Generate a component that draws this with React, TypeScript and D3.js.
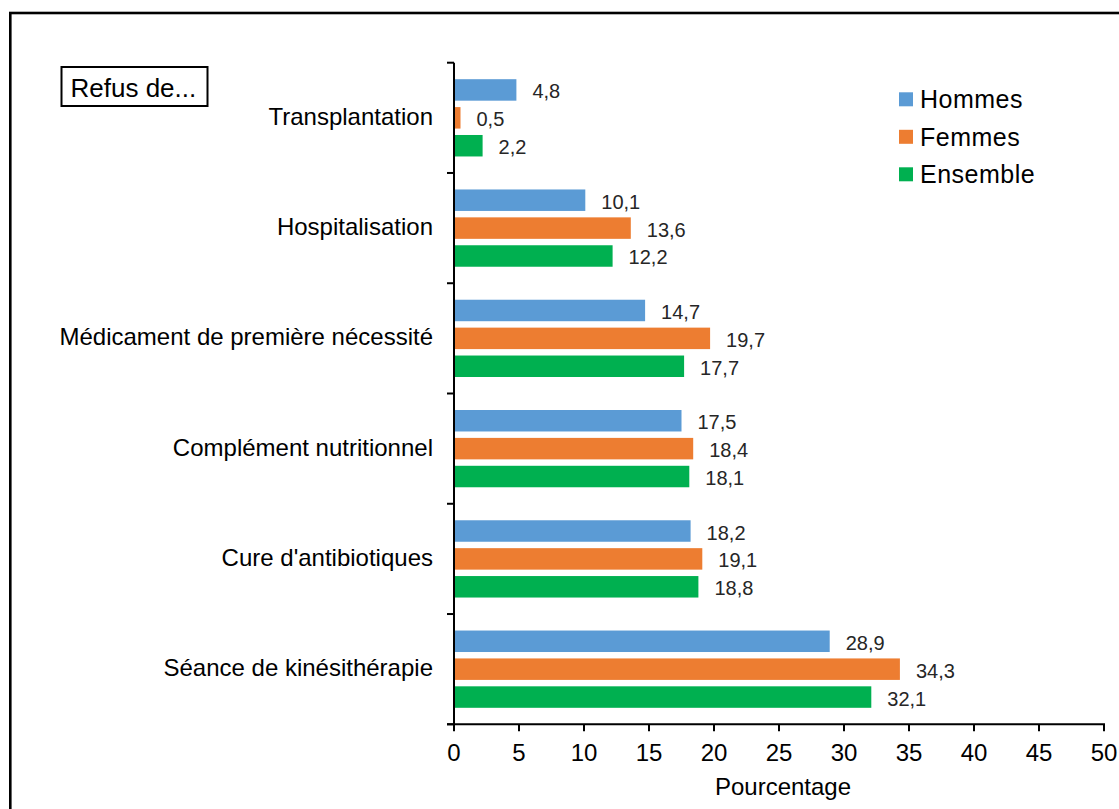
import React from "react";
import * as d3 from "d3";

const categories = [
  "Transplantation",
  "Hospitalisation",
  "Médicament de première nécessité",
  "Complément nutritionnel",
  "Cure d'antibiotiques",
  "Séance de kinésithérapie",
];
const seriesNames = ["Hommes", "Femmes", "Ensemble"];
const hommes = [4.8, 10.1, 14.7, 17.5, 18.2, 28.9];
const femmes = [0.5, 13.6, 19.7, 18.4, 19.1, 34.3];
const ensemble = [2.2, 12.2, 17.7, 18.1, 18.8, 32.1];
const seriesColors = ["#5B9BD5", "#ED7D31", "#00B050"];
const xTicks = [0, 5, 10, 15, 20, 25, 30, 35, 40, 45, 50];

const W = 1119;
const H = 809;
const FONT = "'Liberation Sans', Arial, sans-serif";

export default function App() {
  const values = [hommes, femmes, ensemble];
  const x = d3.scaleLinear().domain([0, 50]).range([454, 1104]);
  const y = d3.scaleBand<string>().domain(categories).range([62.7, 724.3]).paddingInner(0).paddingOuter(0);
  const bw = y.bandwidth();
  const inner = d3
    .scaleBand<string>()
    .domain(seriesNames)
    .range([16.5, bw - 16.5])
    .paddingInner(0.23)
    .paddingOuter(0);
  const fmt = (v: number) => v.toFixed(1).replace(".", ",");
  const axisY = 724.3;
  const boundaries = categories.map((c) => y(c) as number).concat([724.3]);

  return (
    <div style={{ position: "absolute", left: 0, top: 0, width: W, height: H, overflow: "hidden" }}>
      <svg width={W} height={H} style={{ display: "block", fontFamily: FONT }}>
        <rect x={0} y={0} width={W} height={H} fill="#fff" />
        <rect x={10.3} y={13} width={1300} height={1000} fill="none" stroke="#000" strokeWidth={2.6} />

        {/* Refus de box */}
        <rect x={61.5} y={67} width={146} height={39} fill="#fff" stroke="#000" strokeWidth={2} />
        <text x={70.5} y={96.5} fontSize={26} fill="#000">Refus de...</text>

        {/* bars */}
        {categories.map((c, i) =>
          seriesNames.map((s, j) => {
            const v = values[j][i];
            const by = (y(c) as number) + (inner(s) as number);
            const bh = inner.bandwidth();
            return (
              <g key={c + s}>
                <rect x={x(0)} y={by} width={x(v) - x(0)} height={bh} fill={seriesColors[j]} />
                <text x={x(v) + 16} y={by + bh / 2 + 8.5} fontSize={20} fill="#262626">
                  {fmt(v)}
                </text>
              </g>
            );
          })
        )}

        {/* y axis */}
        <line x1={454} x2={454} y1={62.7} y2={axisY} stroke="#000" strokeWidth={2} />
        {boundaries.map((b, i) => (
          <line key={"yt" + i} x1={447} x2={454} y1={b} y2={b} stroke="#000" strokeWidth={2} />
        ))}
        {categories.map((c) => (
          <text
            key={"cl" + c}
            x={433}
            y={(y(c) as number) + bw / 2 + 7}
            fontSize={24}
            textAnchor="end"
            fill="#000"
          >
            {c}
          </text>
        ))}

        {/* x axis */}
        <line x1={447} x2={x(50) + 1} y1={axisY} y2={axisY} stroke="#000" strokeWidth={2} />
        {xTicks.map((t) => (
          <g key={"xt" + t}>
            <line x1={x(t)} x2={x(t)} y1={axisY} y2={axisY + 7} stroke="#000" strokeWidth={2} />
            <text x={x(t)} y={761} fontSize={24} textAnchor="middle" fill="#000">
              {t}
            </text>
          </g>
        ))}
        <text x={(x(0) + x(50)) / 2 + 4} y={795} fontSize={24} textAnchor="middle" fill="#000">
          Pourcentage
        </text>

        {/* legend */}
        {seriesNames.map((s, j) => (
          <g key={"lg" + s}>
            <rect x={899} y={92.3 + j * 37.5} width={14} height={14} fill={seriesColors[j]} />
            <text x={920} y={108 + j * 37.5} fontSize={25} letterSpacing={0.5} fill="#000">
              {s}
            </text>
          </g>
        ))}
      </svg>
    </div>
  );
}
